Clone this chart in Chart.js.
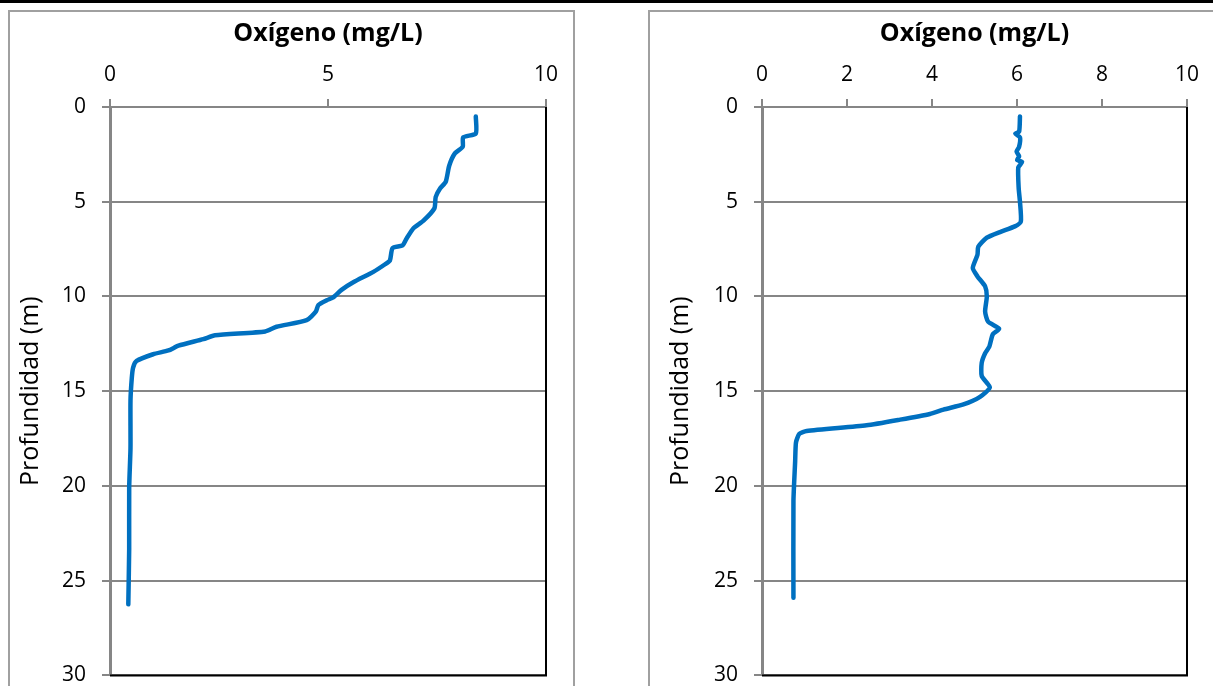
<!DOCTYPE html>
<html lang="es">
<head>
<meta charset="UTF-8" />
<title>Perfiles de oxígeno</title>
<script src="https://cdn.jsdelivr.net/npm/chart.js"></script>
<style>
  body { margin: 0; width: 1213px; height: 686px; overflow: hidden; background: #fff; position: relative; }
  .topbar { position: absolute; left: 0; top: 0; width: 1213px; height: 3px; background: #000; }
  .frame { position: absolute; top: 10px; height: 720px; border: 2px solid #a0a0a0; box-sizing: border-box; }
  canvas { position: absolute; top: 10px; }
</style>
</head>
<body>
<div class="topbar"></div>
<div class="frame" style="left:8px; width:567px;"></div>
<div class="frame" style="left:648px; width:620px;"></div>
<canvas id="graficoA" width="567" height="694" style="left:8px;"></canvas>
<canvas id="graficoB" width="565" height="694" style="left:648px;"></canvas>

<script>
  // perfil 1
  const profA = [0.5, 1.4, 1.6, 2.1, 2.45, 3.1, 3.95, 4.3, 4.75, 5.35, 6.0, 6.4, 6.95, 7.3, 7.45, 8.1, 8.3, 8.7, 9.25, 9.65, 10.05, 10.2, 10.45, 10.8, 11.25, 11.6, 11.85, 12.05, 12.25, 12.6, 12.85, 13.05, 13.4, 13.75, 14.3, 15.5, 18.0, 20.1, 23.3, 26.25];
  const oxiA  = [8.39, 8.39, 8.1, 8.09, 7.91, 7.78, 7.7, 7.57, 7.47, 7.44, 7.19, 6.96, 6.8, 6.71, 6.48, 6.42, 6.31, 6.04, 5.58, 5.31, 5.12, 4.97, 4.78, 4.72, 4.51, 3.82, 3.56, 2.41, 2.14, 1.57, 1.34, 0.99, 0.61, 0.53, 0.50, 0.47, 0.47, 0.44, 0.44, 0.42];

  // perfil 2
  const profB = [0.5, 1.3, 1.4, 1.6, 2.1, 2.35, 2.6, 2.8, 2.9, 3.2, 4.3, 5.0, 6.05, 6.3, 6.6, 6.9, 7.37, 7.8, 8.5, 8.94, 9.47, 10.0, 10.8, 11.33, 11.7, 12.0, 12.64, 13.0, 13.5, 14.2, 14.8, 15.3, 15.7, 15.97, 16.2, 16.5, 16.8, 17.1, 17.25, 17.7, 18.7, 20.8, 25.9];
  const oxiB  = [6.07, 6.05, 5.96, 6.07, 6.05, 5.99, 6.05, 6.0, 6.12, 6.03, 6.04, 6.07, 6.09, 5.95, 5.60, 5.29, 5.09, 5.07, 4.96, 5.07, 5.25, 5.29, 5.25, 5.32, 5.58, 5.43, 5.35, 5.25, 5.17, 5.17, 5.36, 5.13, 4.74, 4.27, 3.95, 3.25, 2.46, 1.05, 0.88, 0.80, 0.78, 0.74, 0.74];

  const ticksProf = [0, 5, 10, 15, 20, 25, 30];
  const tituloX = 'Oxígeno (mg/L)';
  const tituloY = 'Profundidad (m)';

  const fuente = '"Open Sans"';
  const gris = '#868686';

  // borde negro derecho e inferior del área de trazado
  const bordeArea = {
    id: 'bordeArea',
    afterDraw(chart) {
      const { ctx, chartArea: a } = chart;
      ctx.save();
      ctx.strokeStyle = '#000';
      ctx.lineWidth = 2;
      ctx.beginPath();
      ctx.moveTo(a.left, a.bottom);
      ctx.lineTo(a.right, a.bottom);
      ctx.lineTo(a.right, a.top);
      ctx.stroke();
      ctx.restore();
    }
  };

  function crearGrafico(id, prof, oxi, paso, anchoY, padDer, padTituloY) {
    const ctx = document.getElementById(id).getContext('2d');
    return new Chart(ctx, {
      type: 'scatter',
      data: {
        datasets: [{
          data: prof.map((p, i) => ({ x: oxi[i], y: p })),
          showLine: true,
          borderColor: '#0070C0',
          borderWidth: 4.5,
          borderCapStyle: 'round',
          borderJoinStyle: 'round',
          pointRadius: 0,
          tension: 0.2
        }]
      },
      options: {
        responsive: false,
        animation: false,
        layout: { padding: { left: 0, right: padDer, top: 0, bottom: 0 } },
        plugins: { legend: { display: false }, tooltip: { enabled: false } },
        scales: {
          x: {
            type: 'linear', position: 'top', min: 0, max: 10,
            afterFit: s => { s.height = 97; },
            ticks: { stepSize: paso, color: '#000', font: { family: fuente, size: 21 }, padding: 11, maxRotation: 0 },
            grid: { drawOnChartArea: false, drawTicks: true, tickLength: 8, color: gris, lineWidth: 2 },
            border: { color: gris, width: 2 },
            title: { display: true, text: tituloX, color: '#000', font: { family: fuente, size: 25, weight: 'bold' }, padding: { top: 9, bottom: 0 } }
          },
          y: {
            type: 'linear', reverse: true, min: 0, max: 30,
            afterFit: s => { s.width = anchoY; },
            afterBuildTicks: s => { s.ticks = ticksProf.map(v => ({ value: v })); },
            ticks: { color: '#000', font: { family: fuente, size: 21 }, padding: 16 },
            grid: { color: gris, lineWidth: 2, tickLength: 8 },
            border: { color: gris, width: 3 },
            title: { display: true, text: tituloY, color: '#000', font: { family: fuente, size: 25 }, padding: { top: padTituloY, bottom: 0 } }
          }
        }
      },
      plugins: [bordeArea]
    });
  }

  crearGrafico('graficoA', profA, oxiA, 5, 102, 29, 8);
  crearGrafico('graficoB', profB, oxiB, 2, 114, 26, 18);
</script>
</body>
</html>
